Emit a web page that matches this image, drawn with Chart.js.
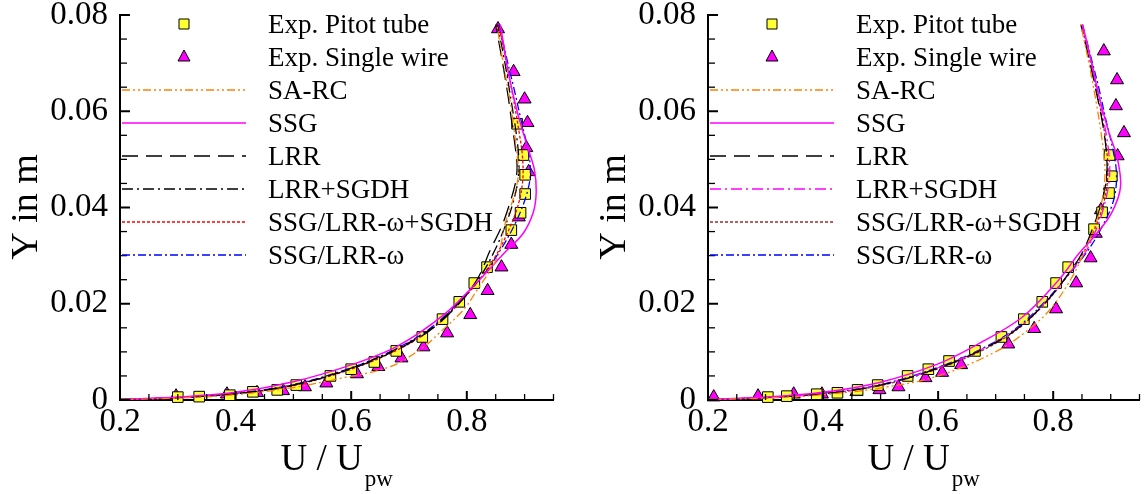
<!doctype html>
<html lang="en">
<head>
<meta charset="utf-8" />
<title>Velocity profiles U / Upw</title>
<script src="https://cdn.jsdelivr.net/npm/chart.js@4.4.1/dist/chart.umd.min.js"></script>
<style>
    body { margin: 0; background: #fff; }
    #wrap { position: relative; width: 1148px; height: 494px; }
    canvas { position: absolute; top: 0; }
</style>
</head>
<body>
<div id="wrap">
    <canvas id="left" width="574" height="494" style="left:0px"></canvas>
    <canvas id="right" width="560" height="494" style="left:588px"></canvas>
</div>
<script>
// axis ticks
const xTickValues = [0.2, 0.4, 0.6, 0.8];
const yTickValues = [0, 0.02, 0.04, 0.06, 0.08];

// measurements, [U/Upw, Y in m]
const pitotLeft = [[0.300,0.0006],[0.337,0.0007],[0.390,0.0010],[0.430,0.0017],[0.472,0.0021],[0.505,0.0031],
    [0.564,0.0050],[0.600,0.0064],[0.640,0.0079],[0.678,0.0102],[0.723,0.0131],[0.758,0.0168],[0.787,0.0204],
    [0.813,0.0243],[0.835,0.0276],[0.877,0.0353],[0.893,0.0389],[0.901,0.0428],[0.901,0.0468],[0.898,0.0509],[0.887,0.0574]];
const wireLeft = [[0.297,0.0008],[0.385,0.0012],[0.437,0.0015],[0.482,0.0019],[0.520,0.0027],[0.557,0.0035],
    [0.610,0.0054],[0.647,0.0069],[0.687,0.0087],[0.725,0.0110],[0.766,0.0139],[0.806,0.0177],[0.836,0.0227],
    [0.860,0.0276],[0.877,0.0323],[0.890,0.0380],[0.907,0.0474],[0.903,0.0524],[0.905,0.0576],[0.900,0.0625],
    [0.881,0.0682],[0.854,0.0771]];

const pitotRight = [[0.304,0.0006],[0.337,0.0008],[0.389,0.0012],[0.425,0.0015],[0.460,0.0021],[0.495,0.0031],
    [0.547,0.0050],[0.583,0.0064],[0.619,0.0081],[0.664,0.0102],[0.710,0.0131],[0.749,0.0168],[0.781,0.0204],
    [0.805,0.0243],[0.826,0.0276],[0.871,0.0355],[0.885,0.0390],[0.897,0.0430],[0.902,0.0465],[0.898,0.0509]];
const wireRight = [[0.210,0.0006],[0.287,0.0008],[0.349,0.0012],[0.398,0.0012],[0.458,0.0017],[0.498,0.0021],
    [0.531,0.0027],[0.578,0.0046],[0.607,0.0057],[0.640,0.0073],[0.722,0.0116],[0.767,0.0148],[0.805,0.0189],
    [0.840,0.0243],[0.865,0.0295],[0.874,0.0346],[0.883,0.0395],[0.912,0.0507],[0.923,0.0555],[0.909,0.0611],
    [0.911,0.0665],[0.888,0.0725]];

// computed profiles, left case
const saRcLeft = [[0.2,0.0001],[0.3,0.0004],[0.4,0.0011],[0.5,0.0026],[0.569,0.0042],[0.667,0.0069],[0.725,0.0110],
    [0.754,0.0141],[0.794,0.0187],[0.818,0.0229],[0.853,0.0297],[0.866,0.0365],[0.882,0.0425],[0.889,0.0470],
    [0.885,0.0530],[0.875,0.0620],[0.863,0.0700],[0.852,0.0780]];
const ssgLeft = [[0.2,0.0001],[0.3,0.0006],[0.4,0.0016],[0.5,0.0038],[0.6,0.0073],[0.68,0.0112],[0.76,0.0177],
    [0.818,0.0245],[0.866,0.0307],[0.898,0.0347],[0.915,0.0390],[0.920,0.0430],[0.917,0.0478],[0.905,0.0526],
    [0.887,0.0600],[0.872,0.0680],[0.858,0.0780]];
const lrrLeft = [[0.2,0.0001],[0.3,0.0005],[0.4,0.0013],[0.5,0.0031],[0.6,0.0065],[0.68,0.0105],[0.74,0.0148],
    [0.79,0.0205],[0.82,0.0255],[0.84,0.0310],[0.86,0.0360],[0.872,0.0400],[0.884,0.0450],[0.887,0.0485],
    [0.884,0.0524],[0.878,0.0575],[0.872,0.0627],[0.862,0.0700],[0.850,0.0780]];
const lrrSgdhLeft = [[0.2,0.0001],[0.3,0.0005],[0.4,0.0013],[0.5,0.0031],[0.6,0.0066],[0.68,0.0107],[0.74,0.0150],
    [0.79,0.0207],[0.825,0.0260],[0.848,0.0310],[0.866,0.0360],[0.880,0.0410],[0.889,0.0460],[0.890,0.0500],
    [0.886,0.0550],[0.877,0.0620],[0.866,0.0700],[0.853,0.0780]];
const omegaSgdhLeft = [[0.2,0.0001],[0.3,0.0005],[0.4,0.0013],[0.5,0.0030],[0.6,0.0064],[0.68,0.0104],[0.74,0.0148],
    [0.79,0.0205],[0.828,0.0260],[0.855,0.0310],[0.875,0.0360],[0.890,0.0410],[0.897,0.0460],[0.896,0.0510],
    [0.890,0.0560],[0.880,0.0630],[0.867,0.0710],[0.855,0.0780]];
const omegaLeft = [[0.2,0.0001],[0.3,0.0005],[0.4,0.0014],[0.5,0.0032],[0.6,0.0067],[0.68,0.0108],[0.74,0.0152],
    [0.79,0.0208],[0.83,0.0262],[0.86,0.0315],[0.885,0.0370],[0.903,0.0425],[0.910,0.0470],[0.906,0.0520],
    [0.896,0.0570],[0.883,0.0640],[0.869,0.0710],[0.856,0.0780]];

// computed profiles, right case
const saRcRight = [[0.2,0.0001],[0.3,0.0004],[0.4,0.0011],[0.5,0.0025],[0.6,0.0050],[0.706,0.0104],[0.763,0.0152],
    [0.798,0.0193],[0.833,0.0256],[0.855,0.0310],[0.872,0.0360],[0.885,0.0415],[0.890,0.0470],[0.886,0.0530],
    [0.876,0.0610],[0.862,0.0700],[0.848,0.0780]];
const ssgRight = [[0.2,0.0001],[0.3,0.0006],[0.4,0.0016],[0.5,0.0037],[0.6,0.0075],[0.666,0.0114],[0.746,0.0172],
    [0.810,0.0250],[0.845,0.0305],[0.875,0.0345],[0.902,0.0390],[0.917,0.0443],[0.911,0.0505],[0.897,0.0555],
    [0.880,0.0630],[0.865,0.0710],[0.851,0.0780]];
const lrrRight = [[0.2,0.0001],[0.3,0.0005],[0.4,0.0013],[0.5,0.0031],[0.6,0.0066],[0.68,0.0107],[0.74,0.0150],
    [0.79,0.0207],[0.825,0.0260],[0.850,0.0305],[0.868,0.0355],[0.884,0.0410],[0.893,0.0465],[0.892,0.0520],
    [0.885,0.0580],[0.874,0.0645],[0.861,0.0715],[0.848,0.0780]];
const lrrSgdhRight = [[0.2,0.0001],[0.3,0.0005],[0.4,0.0013],[0.5,0.0031],[0.6,0.0067],[0.68,0.0108],[0.74,0.0151],
    [0.79,0.0208],[0.827,0.0262],[0.855,0.0305],[0.875,0.0355],[0.890,0.0410],[0.898,0.0465],[0.896,0.0520],
    [0.888,0.0580],[0.877,0.0645],[0.864,0.0715],[0.850,0.0780]];
const omegaSgdhRight = [[0.2,0.0001],[0.3,0.0005],[0.4,0.0013],[0.5,0.0030],[0.6,0.0065],[0.68,0.0105],[0.74,0.0149],
    [0.79,0.0206],[0.826,0.0260],[0.852,0.0305],[0.872,0.0355],[0.888,0.0410],[0.895,0.0465],[0.893,0.0520],
    [0.886,0.0580],[0.875,0.0645],[0.862,0.0715],[0.849,0.0780]];
const omegaRight = [[0.2,0.0001],[0.3,0.0005],[0.4,0.0014],[0.5,0.0032],[0.6,0.0068],[0.68,0.0109],[0.74,0.0153],
    [0.79,0.0210],[0.830,0.0265],[0.860,0.0310],[0.885,0.0360],[0.905,0.0415],[0.910,0.0470],[0.903,0.0525],
    [0.892,0.0580],[0.879,0.0650],[0.865,0.0715],[0.851,0.0780]];

const FONT = '"Liberation Serif", "DejaVu Serif", serif';

function toXY(pts) {
    return pts.map(p => ({x: p[0], y: p[1]}));
}

function markerSet(label, pts, style, fill) {
    return {
        label: label, data: toXY(pts), showLine: false,
        pointStyle: style, pointRadius: 7.5, pointHoverRadius: 7.5,
        pointBackgroundColor: fill, pointBorderColor: '#000', pointBorderWidth: 1,
        order: 2, clip: 10
    };
}

function lineSet(label, pts, color, dash, width) {
    return {
        label: label, data: toXY(pts), showLine: true, tension: 0.35,
        borderColor: color, borderDash: dash, borderWidth: width,
        pointRadius: 0, pointHoverRadius: 0, fill: false, order: 1
    };
}

// inward ticks, axis titles and the legend block inside the plot
const decorations = {
    id: 'decorations',
    afterDraw(chart) {
        const ctx = chart.ctx, a = chart.chartArea;
        const sx = chart.scales.x, sy = chart.scales.y;
        ctx.save();
        ctx.strokeStyle = '#000';

        for (let i = 0; i <= 16; i++) {
            const py = sy.getPixelForValue(i * 0.005);
            const major = i % 4 === 0;
            ctx.lineWidth = major ? 2 : 1.3;
            ctx.beginPath();
            ctx.moveTo(a.left, py);
            ctx.lineTo(a.left + (major ? 10 : 7), py);
            ctx.stroke();
        }
        for (let i = 0; i <= 15; i++) {
            const v = 0.2 + i * 0.05;
            const px = sx.getPixelForValue(v);
            const major = i % 4 === 0;
            ctx.lineWidth = major ? 2 : 1.3;
            ctx.beginPath();
            ctx.moveTo(px, a.bottom);
            ctx.lineTo(px, a.bottom - (major ? 9 : 6));
            ctx.stroke();
        }

        // axis titles
        ctx.fillStyle = '#000';
        ctx.textBaseline = 'alphabetic';
        ctx.save();
        ctx.translate(37, 207);
        ctx.rotate(-Math.PI / 2);
        ctx.textAlign = 'center';
        ctx.font = '38px ' + FONT;
        ctx.fillText('Y in m', 0, 0);
        ctx.restore();

        ctx.textAlign = 'left';
        ctx.font = '37px ' + FONT;
        const main = 'U / U';
        const wMain = ctx.measureText(main).width;
        ctx.font = '23px ' + FONT;
        const wSub = ctx.measureText('pw').width;
        const x0 = (a.left + a.right) / 2 - (wMain + 2 + wSub) / 2;
        ctx.font = '37px ' + FONT;
        ctx.fillText(main, x0, 470);
        ctx.font = '23px ' + FONT;
        ctx.fillText('pw', x0 + wMain + 2, 486);

        // legend
        const ds = chart.data.datasets;
        ctx.font = '27px ' + FONT;
        ds.forEach((d, i) => {
            const ry = 24 + i * 33;
            if (d.showLine) {
                ctx.strokeStyle = d.borderColor;
                ctx.lineWidth = d.borderWidth;
                ctx.setLineDash(d.borderDash);
                ctx.beginPath();
                ctx.moveTo(a.left + 2, ry);
                ctx.lineTo(a.left + 126, ry);
                ctx.stroke();
                ctx.setLineDash([]);
            } else {
                const mx = a.left + 64;
                ctx.fillStyle = d.pointBackgroundColor;
                ctx.strokeStyle = '#000';
                ctx.lineWidth = 1;
                ctx.beginPath();
                if (d.pointStyle === 'rect') {
                    ctx.rect(mx - 5, ry - 5, 10, 10);
                } else {
                    ctx.moveTo(mx, ry - 7);
                    ctx.lineTo(mx + 6, ry + 4);
                    ctx.lineTo(mx - 6, ry + 4);
                    ctx.closePath();
                }
                ctx.fill();
                ctx.stroke();
            }
            ctx.fillStyle = '#000';
            ctx.fillText(d.label, a.left + 148, ry + 9);
        });
        ctx.restore();
    }
};

function makeChart(id, datasets, rightPad) {
    return new Chart(document.getElementById(id), {
        type: 'scatter',
        data: {datasets: datasets},
        options: {
            responsive: false,
            animation: false,
            devicePixelRatio: 1,
            layout: {padding: {top: 15, right: rightPad, left: 0, bottom: 0}},
            plugins: {legend: {display: false}, tooltip: {enabled: false}},
            scales: {
                x: {
                    type: 'linear', min: 0.2, max: 0.95,
                    afterBuildTicks: s => { s.ticks = xTickValues.map(v => ({value: v})); },
                    afterFit: s => { s.height = 94; s.paddingLeft = 0; s.paddingRight = 0; },
                    grid: {display: false, drawTicks: false},
                    border: {display: true, width: 2, color: '#000'},
                    ticks: {font: {family: FONT, size: 33}, color: '#000', padding: 3,
                        maxRotation: 0, autoSkip: false, callback: v => String(v)}
                },
                y: {
                    type: 'linear', min: 0, max: 0.08,
                    afterBuildTicks: s => { s.ticks = yTickValues.map(v => ({value: v})); },
                    afterFit: s => { s.width = 120; s.paddingTop = 0; s.paddingBottom = 0; },
                    grid: {display: false, drawTicks: false},
                    border: {display: true, width: 2, color: '#000'},
                    ticks: {font: {family: FONT, size: 33}, color: '#000', padding: 12,
                        autoSkip: false, callback: v => String(v)}
                }
            }
        },
        plugins: [decorations]
    });
}

makeChart('left', [
    markerSet('Exp. Pitot tube', pitotLeft, 'rect', '#ffff33'),
    markerSet('Exp. Single wire', wireLeft, 'triangle', '#ff00ff'),
    lineSet('SA-RC', saRcLeft, '#ff8000', [8, 3, 2, 3, 2, 3], 1.3),
    lineSet('SSG', ssgLeft, '#ff00ff', [], 1.5),
    lineSet('LRR', lrrLeft, '#000000', [16, 8], 1.3),
    lineSet('LRR+SGDH', lrrSgdhLeft, '#000000', [11, 4, 2, 4], 1.3),
    lineSet('SSG/LRR-\u03c9+SGDH', omegaSgdhLeft, '#ff0000', [3, 2], 1.3),
    lineSet('SSG/LRR-\u03c9', omegaLeft, '#0000ff', [8, 3, 2, 3], 1.3)
], 20.5);

makeChart('right', [
    markerSet('Exp. Pitot tube', pitotRight, 'rect', '#ffff33'),
    markerSet('Exp. Single wire', wireRight, 'triangle', '#ff00ff'),
    lineSet('SA-RC', saRcRight, '#ff8000', [8, 3, 2, 3, 2, 3], 1.3),
    lineSet('SSG', ssgRight, '#ff00ff', [], 1.5),
    lineSet('LRR', lrrRight, '#000000', [16, 8], 1.3),
    lineSet('LRR+SGDH', lrrSgdhRight, '#ff00ff', [11, 4, 2, 4], 1.3),
    lineSet('SSG/LRR-\u03c9+SGDH', omegaSgdhRight, '#a0282a', [3, 2], 1.3),
    lineSet('SSG/LRR-\u03c9', omegaRight, '#0000ff', [8, 3, 2, 3], 1.3)
], 7.5);
</script>
</body>
</html>
